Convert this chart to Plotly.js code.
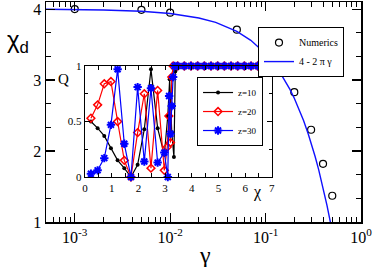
<!DOCTYPE html>
<html>
<head>
<meta charset="utf-8">
<script src="https://cdn.plot.ly/plotly-3.0.1.min.js"></script>
<style>
html,body{margin:0;padding:0;background:#fff;}
#chart{width:374px;height:267px;}
</style>
</head>
<body>
<div id="chart"></div>
<script>
// ---- Main panel data ----
const gammaNum = [0.001, 0.005, 0.01, 0.05, 0.1, 0.2, 0.3, 0.4, 0.5];
const chiNum   = [4.00, 3.99, 3.95, 3.71, 3.40, 2.83, 2.30, 1.82, 1.37];

// curve "4 - 2 pi gamma"
const gammaLine = [0.0005, 0.001, 0.002, 0.005, 0.01, 0.02, 0.03, 0.05, 0.07, 0.1, 0.12, 0.14, 0.16, 0.18, 0.2, 0.22, 0.25, 0.28, 0.3, 0.33, 0.36, 0.4, 0.44, 0.48];
const chiLine   = [3.997, 3.994, 3.987, 3.969, 3.937, 3.874, 3.812, 3.686, 3.560, 3.372, 3.246, 3.120, 2.995, 2.869, 2.743, 2.618, 2.429, 2.241, 2.115, 1.927, 1.738, 1.487, 1.235, 0.984];

const xTickVals = [0.001, 0.01, 0.1, 1];
const xTickText = ["10<sup>-3</sup>", "10<sup>-2</sup>", "10<sup>-1</sup>", "10<sup>0</sup>"];
const xMinorVals = [0.0006,0.0007,0.0008,0.0009,0.002,0.003,0.004,0.005,0.006,0.007,0.008,0.009,
                    0.02,0.03,0.04,0.05,0.06,0.07,0.08,0.09,0.2,0.3,0.4,0.5,0.6,0.7,0.8,0.9];

// ---- Inset data ----
const chiZ10 = [0.22,0.47,0.72,0.97,1.22,1.47,1.72,1.97,2.22,2.47,2.72,2.97,3.10,3.17,3.25,3.33,3.38,3.47,3.72,3.97,4.22,4.47,4.72,4.97,5.22,5.47,5.72,5.97,6.22,6.47,6.72,6.97];
const qZ10   = [0.50,0.44,0.37,0.26,0.15,0.08,0.00,0.11,0.43,0.97,0.44,0.20,0.55,0.88,0.40,0.18,0.95,1,1,1,1,1,1,1,1,1,1,1,1,1,1,1];

const chiZ20 = [0.22,0.47,0.72,0.97,1.22,1.47,1.72,1.97,2.22,2.47,2.72,2.97,3.08,3.14,3.20,3.25,3.30,3.47,3.72,3.97,4.22,4.47,4.72,4.97,5.22,5.47,5.72,5.97,6.22,6.47,6.72,6.97];
const qZ20   = [0.53,0.65,0.84,0.86,0.50,0.15,0.00,0.40,0.75,0.08,0.78,0.06,0.27,0.55,0.31,0.90,1,1,1,1,1,1,1,1,1,1,1,1,1,1,1,1];

const chiZ30 = [0.22,0.47,0.72,0.97,1.22,1.47,1.72,1.97,2.22,2.47,2.72,2.97,3.10,3.15,3.20,3.25,3.30,3.35,3.47,3.72,3.97,4.22,4.47,4.72,4.97,5.22,5.47,5.72,5.97,6.22,6.47,6.72,6.97];
const qZ30   = [0.03,0.06,0.17,0.47,0.97,0.30,0.00,0.81,0.14,0.80,0.13,0.22,0.00,0.73,0.39,0.64,0.90,1,1,1,1,1,1,1,1,1,1,1,1,1,1,1,1];

const serif = "'Liberation Serif', 'Times New Roman', serif";
const sans = "'Liberation Sans', Arial, sans-serif";

const traces = [
  {x: gammaNum, y: chiNum, mode: 'markers', name: 'Numerics', xaxis:'x', yaxis:'y',
   marker: {symbol: 'circle-open', size: 7, color: 'black', line: {width: 1.2, color: 'black'}}},
  {x: gammaLine, y: chiLine, mode: 'lines', name: '4 - 2 \u03c0 \u03b3', xaxis:'x', yaxis:'y',
   line: {color: '#1010ff', width: 1.4}},
  {x: chiZ10, y: qZ10, mode: 'lines+markers', name: 'z=10', xaxis:'x2', yaxis:'y2', legend:'legend2',
   cliponaxis: false,
   line: {color: 'black', width: 1.2},
   marker: {symbol: 'circle', size: 4, color: 'black'}},
  {x: chiZ20, y: qZ20, mode: 'lines+markers', name: 'z=20', xaxis:'x2', yaxis:'y2', legend:'legend2',
   cliponaxis: false,
   line: {color: 'red', width: 1.2},
   marker: {symbol: 'diamond-open', size: 6, color: 'red', line: {width: 1.5, color: 'red'}}},
  {x: chiZ30, y: qZ30, mode: 'lines+markers', name: 'z=30', xaxis:'x2', yaxis:'y2', legend:'legend2',
   cliponaxis: false,
   line: {color: 'blue', width: 1.2},
   marker: {symbol: 'asterisk-open', size: 7, color: 'blue', line: {width: 2, color: 'blue'}}}
];

const layout = {
  width: 374, height: 267,
  margin: {l: 46, r: 13, t: 2, b: 45},
  paper_bgcolor: 'white', plot_bgcolor: 'white',
  font: {family: serif, color: 'black', size: 15},
  showlegend: true,
  xaxis: {
    type: 'log', range: [Math.log10(0.0005), 0], domain: [0, 1],
    tickmode: 'array', tickvals: xTickVals, ticktext: xTickText,
    ticks: 'inside', ticklen: 9, tickwidth: 1.2, tickcolor: 'black',
    minor: {tickmode: 'array', tickvals: xMinorVals, ticks: 'inside', ticklen: 5, tickwidth: 1, tickcolor: 'black', showgrid: false},
    showline: true, linecolor: 'black', linewidth: 1.5, mirror: 'allticks',
    showgrid: false, zeroline: false,
    tickfont: {family: serif, size: 16}
  },
  yaxis: {
    range: [1, 4.1], domain: [0, 1],
    tickmode: 'array', tickvals: [1, 2, 3, 4], ticktext: ['1', '2', '3', '4'],
    ticks: 'inside', ticklen: 9, tickwidth: 1.2, tickcolor: 'black',
    minor: {tickmode: 'array', tickvals: [1.3333,1.6667,2.3333,2.6667,3.3333,3.6667], ticks: 'inside', ticklen: 5, tickwidth: 1, tickcolor: 'black', showgrid: false},
    showline: true, linecolor: 'black', linewidth: 1.5, mirror: 'allticks',
    showgrid: false, zeroline: false,
    tickfont: {family: serif, size: 16}
  },
  xaxis2: {
    anchor: 'y2', domain: [0.124, 0.717], range: [0, 7],
    tickmode: 'array', tickvals: [0,1,2,3,4,5,6,7], ticktext: ['0','1','2','3','4','5','6','7'],
    ticks: 'inside', ticklen: 4, tickwidth: 1, tickcolor: 'black',
    minor: {tickmode: 'array', tickvals: [0.5,1.5,2.5,3.5,4.5,5.5,6.5], ticks: 'inside', ticklen: 4, tickwidth: 1, tickcolor: 'black', showgrid: false},
    showline: true, linecolor: 'black', linewidth: 1.4, mirror: 'allticks',
    showgrid: false, zeroline: false,
    tickfont: {family: serif, size: 11}
  },
  yaxis2: {
    anchor: 'x2', domain: [0.2045, 0.709], range: [0, 1],
    tickmode: 'array', tickvals: [0, 0.5, 1], ticktext: ['0', '0.5', '1'],
    ticks: 'inside', ticklen: 5, tickwidth: 1, tickcolor: 'black',
    minor: {tickmode: 'array', tickvals: [0.25, 0.75], ticks: 'inside', ticklen: 3, tickwidth: 1, tickcolor: 'black', showgrid: false},
    showline: true, linecolor: 'black', linewidth: 1.4, mirror: 'allticks',
    showgrid: false, zeroline: false,
    tickfont: {family: serif, size: 11}
  },
  legend: {
    x: 0.946, y: 0.886, xanchor: 'right', yanchor: 'top',
    bgcolor: 'white', bordercolor: 'black', borderwidth: 1,
    font: {family: serif, size: 10}, itemwidth: 30, tracegroupgap: 0
  },
  legend2: {
    x: 0.689, y: 0.659, xanchor: 'right', yanchor: 'top',
    bgcolor: 'white', bordercolor: 'black', borderwidth: 1,
    font: {family: serif, size: 9}, itemwidth: 30, tracegroupgap: 0
  },
  annotations: [
    {xref: 'paper', yref: 'paper', x: -0.09, y: 0.82, xanchor: 'center', yanchor: 'middle', showarrow: false,
     text: '\u03c7<sub>d</sub>', font: {family: sans, size: 24}},
    {xref: 'paper', yref: 'paper', x: 0.505, y: -0.15, xanchor: 'center', yanchor: 'middle', showarrow: false,
     text: '\u03b3', font: {family: serif, size: 24}},
    {xref: 'paper', yref: 'paper', x: 0.054, y: 0.65, xanchor: 'center', yanchor: 'middle', showarrow: false,
     text: 'Q', font: {family: serif, size: 15}},
    {xref: 'paper', yref: 'paper', x: 0.67, y: 0.136, xanchor: 'center', yanchor: 'middle', showarrow: false,
     text: '\u03c7', font: {family: serif, size: 16}}
  ]
};

Plotly.newPlot('chart', traces, layout, {displayModeBar: false, staticPlot: true});
</script>
</body>
</html>
